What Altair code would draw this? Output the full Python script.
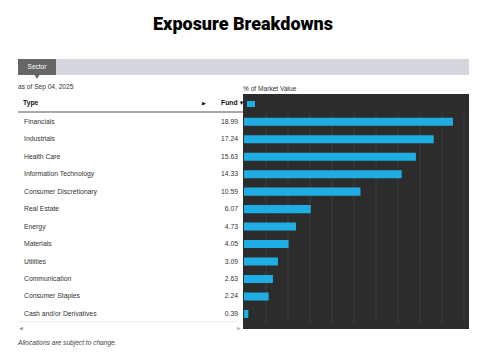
import altair as alt
import pandas as pd

sectors = ["Financials", "Industrials", "Health Care", "Information Technology",
           "Consumer Discretionary", "Real Estate", "Energy", "Materials",
           "Utilities", "Communication", "Consumer Staples", "Cash and/or Derivatives"]
values = [18.99, 17.24, 15.63, 14.33, 10.59, 6.07, 4.73, 4.05, 3.09, 2.63, 2.24, 0.39]
grid_ticks = [2, 4, 6, 8, 10, 12, 14, 16, 18, 20]

df = pd.DataFrame({"sector": sectors, "value": values})
df["label"] = [f"{v:.2f}" for v in values]
grid_df = pd.DataFrame({"t": grid_ticks})
one = alt.Data(values=[{"a": 1}])

FONT = "Liberation Sans"
BLUE = "#1eaee4"

xscale = alt.Scale(domain=[0, 20.45], range=[244, 469])
yscale = alt.Scale(domain=sectors, range=[113, 322.7], paddingInner=0.54, paddingOuter=0.27)


def box(x, x2, y, y2, color):
    return alt.Chart(one).mark_rect(color=color).encode(
        x=alt.value(x), x2=alt.value(x2), y=alt.value(y), y2=alt.value(y2))


def label(text, x, y, size=6.8, color="#333333", align="left", weight="normal", style="normal", font=FONT):
    return alt.Chart(one).mark_text(
        text=text, font=font, fontSize=size, color=color, align=align,
        baseline="middle", fontWeight=weight, fontStyle=style
    ).encode(x=alt.value(x), y=alt.value(y))


title = label("Exposure Breakdowns", 243, 25, size=18, color="#000000", align="center",
              weight=900, font="Roboto")
band = box(18, 469, 59, 75, "#d6d6de")
tab = box(18, 56, 59, 75, "#666666")
tab_text = label("Sector", 37, 67, size=6.5, color="#ffffff", align="center")
tab_arrow = alt.Chart(one).mark_point(shape="triangle-down", filled=True, color="#666666",
                                      size=22, opacity=1).encode(x=alt.value(37), y=alt.value(77))
asof = label("as of Sep 04, 2025", 18, 87, size=6.6)
pmv = label("% of Market Value", 243, 89, size=6.6)

panel = box(243, 469, 94, 329, "#2c2c2c")
grid = alt.Chart(grid_df).mark_rule(color="#3d3d3d", strokeWidth=1).encode(
    x=alt.X("t:Q", scale=xscale, axis=None), y=alt.value(113), y2=alt.value(323))
swatch = box(247, 255, 101, 107, BLUE)

bars = alt.Chart(df).mark_bar(color=BLUE).encode(
    x=alt.X("value:Q", scale=xscale, axis=None),
    x2=alt.value(244),
    y=alt.Y("sector:N", sort=sectors, scale=yscale, axis=None),
)

names = alt.Chart(df).mark_text(font=FONT, fontSize=6.8, color="#333333", align="left", baseline="middle").encode(
    x=alt.value(24), y=alt.Y("sector:N", sort=sectors, scale=yscale, axis=None), text="sector:N")
nums = alt.Chart(df).mark_text(font=FONT, fontSize=6.8, color="#333333", align="right", baseline="middle").encode(
    x=alt.value(238), y=alt.Y("sector:N", sort=sectors, scale=yscale, axis=None), text="label:N")

hdr_type = label("Type", 23, 103, size=6.8, color="#111111", weight="bold")
hdr_arrow = label("▶", 204, 103, size=5, color="#111111", align="center")
hdr_fund = label("Fund", 221, 103, size=6.8, color="#111111", align="left", weight="bold")
hdr_tri = label("▼", 238.5, 103, size=6, color="#111111", align="left")
hdr_line = box(18, 243, 111.5, 112.5, "#555555")
bottom_line = box(18, 243, 321.5, 322.3, "#e6e6e6")
scroll_l = label("◀", 21, 328, size=5, color="#999999", align="center")
scroll_r = label("▶", 239, 328, size=5, color="#bbbbbb", align="center")
foot = label("Allocations are subject to change.", 18, 343, size=6.6, color="#444444", style="italic")

chart = alt.layer(
    title, band, tab, tab_text, tab_arrow, asof, pmv,
    panel, grid, swatch, bars, names, nums,
    hdr_type, hdr_arrow, hdr_fund, hdr_line, bottom_line, scroll_l, scroll_r, foot, hdr_tri
).properties(
    width=484, height=357, padding=0, autosize=alt.AutoSizeParams(type="none"), background="#ffffff"
).configure_view(stroke=None)

chart.save("out.html", embed_options={"renderer": "svg", "actions": False})
